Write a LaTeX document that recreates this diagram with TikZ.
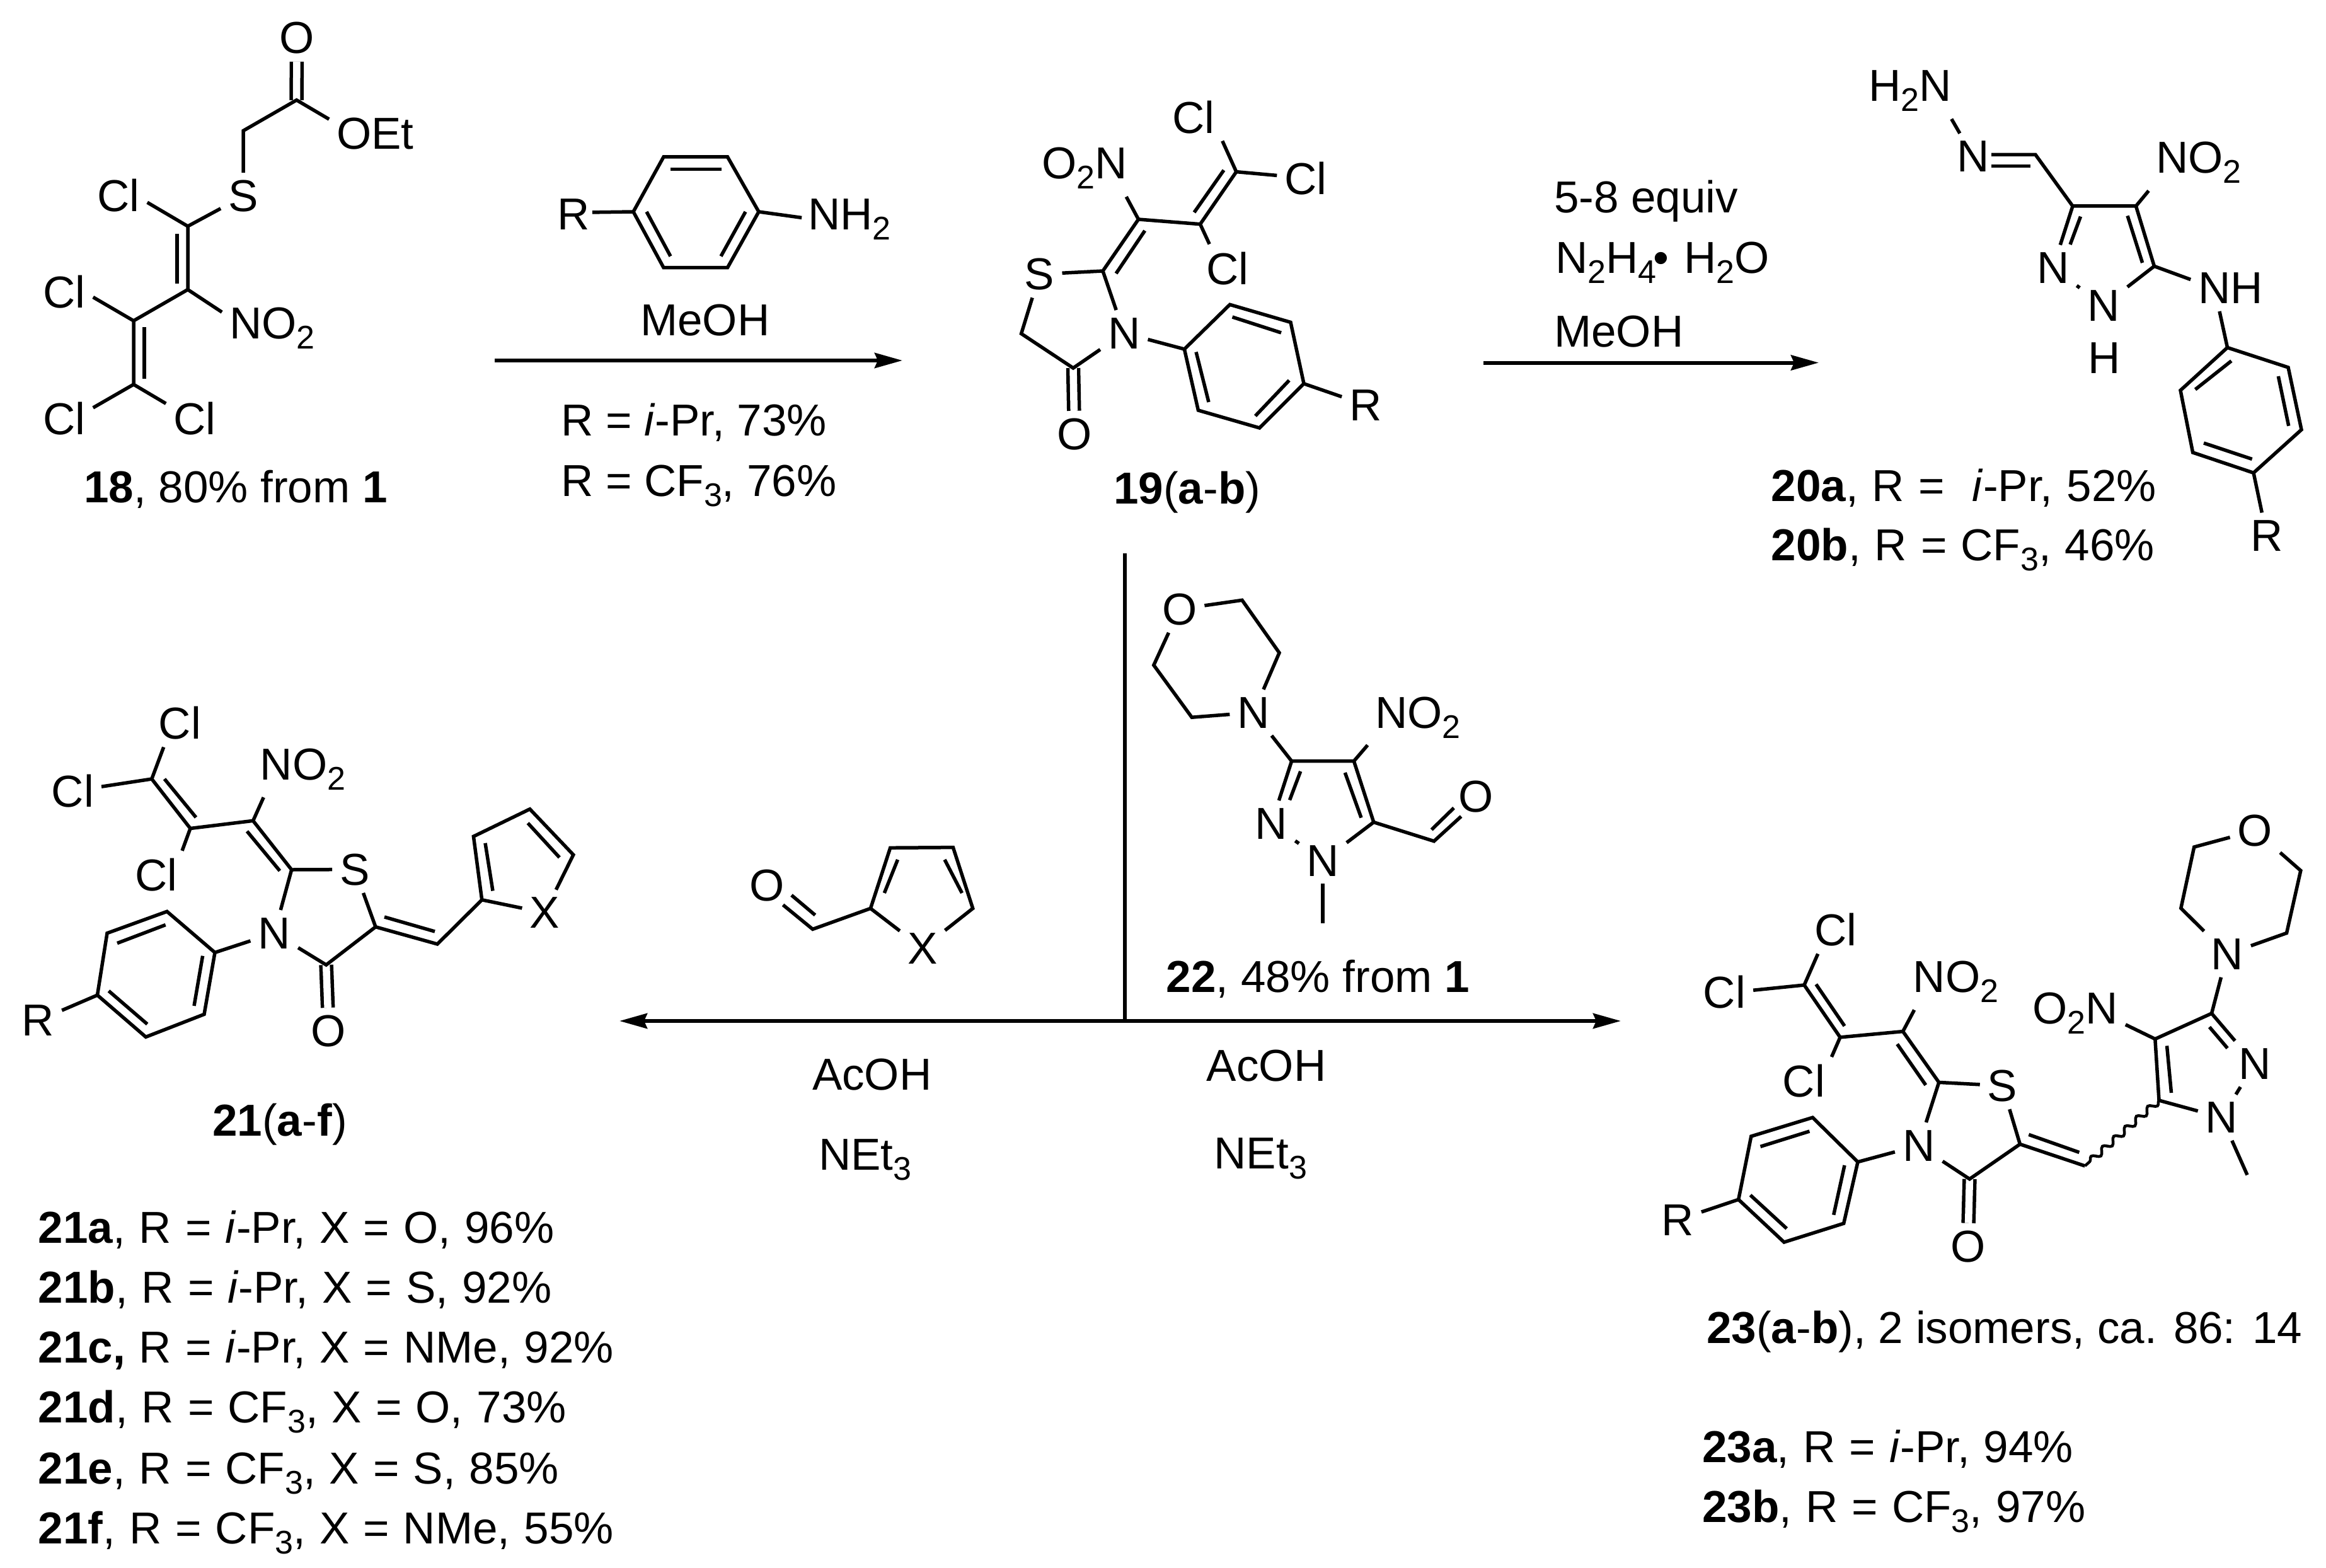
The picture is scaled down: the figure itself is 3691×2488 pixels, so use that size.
\documentclass[tikz,border=0pt]{standalone}
\usepackage{fontspec}
\setmainfont{Liberation Sans}
\usetikzlibrary{arrows.meta, decorations.pathmorphing}
\newcommand{\lowsub}[1]{\raisebox{-16pt}{\fontsize{52}{52}\selectfont #1}}
\tikzset{
    >={Stealth[length = 44pt, width = 24pt, inset = 5pt]},
    bond/.style = {line width = 5.5pt},
    dbond/.style = {line width = 5.5pt, double, double distance = 11.5pt},
    wavy/.style = {line width = 4.5pt, decorate, decoration = {snake, amplitude = 5pt, segment length = 24pt}},
    rxn/.style = {line width = 6pt},
    atom/.style = {inner sep = 12pt, anchor = base},
    txt/.style = {inner sep = 0pt, anchor = base west},
    yieldtxt/.style = {txt, execute at begin node = {\spaceskip 22pt\relax}}
}
\begin{document}
\begin{tikzpicture}[x = 1pt, y = -1pt, font = \fontsize{71}{84}\selectfont]
    \useasboundingbox (0,0) rectangle (3691,2488);

    \node[atom] (o18) at (471,85) {O};
    \node[atom] (oet18) at (562,237) {O\rlap{Et}};
    \node[atom] (s18) at (386,336) {S};
    \node[atom] (cla18) at (188,336) {Cl};
    \node[atom] (clb18) at (102,488) {Cl};
    \node[atom] (clc18) at (102,689) {Cl};
    \node[atom] (cld18) at (309,689) {Cl};
    \node[atom] (no18) at (390,537) {N\rlap{O\lowsub{2}}};
    \node[txt] (cap18) at (133,797) {\textbf{18}, 80\% from \textbf{1}};
    \coordinate (c18a) at (470.6,158.8);
    \coordinate (c18b) at (386,207.5);
    \coordinate (c18c) at (298,359);
    \coordinate (c18d) at (298,459.5);
    \coordinate (c18e) at (212,509);
    \coordinate (c18f) at (212,610);
    \draw[dbond] (c18a) -- (o18);
    \draw[bond] (oet18) -- (c18a) -- (c18b) -- (s18) -- (c18c) -- (c18d) -- (c18e) -- (c18f);
    \draw[bond] (c18c) -- (cla18.-13);
    \draw[bond] (c18d) -- (no18);
    \draw[bond] (c18e) -- (clb18.-11);
    \draw[bond] (c18f) -- (clc18.20);
    \draw[bond] (c18f) -- (cld18.153);
    \draw[bond] (281,371) -- (281,450);
    \draw[bond] (229,519) -- (229,601);

    \node[atom, inner sep = 4pt] (ran) at (910,365) {R};
    \node[atom, inner sep = 10pt] (nan) at (1308,365) {N\rlap{H\lowsub{2}}};
    \coordinate (an1) at (1005,336);
    \coordinate (an2) at (1053,249);
    \coordinate (an3) at (1154.5,249);
    \coordinate (an4) at (1204,336);
    \coordinate (an5) at (1154.5,424.6);
    \coordinate (an6) at (1053,424.6);
    \draw[bond] (an1) -- (an2) -- (an3) -- (an4) -- (an5) -- (an6) -- cycle;
    \draw[bond] (ran.7) -- (an1);
    \draw[bond] (an4) -- (nan.175);
    \draw[bond] (1063.5,268.4) -- (1145,268.4);
    \draw[bond] (1026,336) -- (1064,406.6);
    \draw[bond] (1183,336) -- (1144,406.6);
    \node[txt] (meoh1) at (1016,532) {MeOH};
    \node[txt] (yield1) at (890,691) {R = \textit{i}-Pr, 73\%};
    \node[txt] (yield2) at (890,787) {R = CF\lowsub{3}, 76\%};
    \coordinate (rxa) at (785,572);
    \coordinate (rxb) at (1432,572);
    \draw[rxn, ->] (rxa) -- (rxb);

    \node[atom] (no19) at (1763,284) {\llap{O\lowsub{2}}N};
    \node[atom] (cla19) at (1894,212) {Cl};
    \node[atom] (clb19) at (2072,308.6) {Cl};
    \node[atom] (clc19) at (1948,451) {Cl};
    \node[atom] (s19) at (1649.6,459.5) {S};
    \node[atom] (n19) at (1783.7,553) {N};
    \node[atom] (o19) at (1705,713.6) {O};
    \node[atom] (r19) at (2167,667) {R};
    \node[txt] (cap19) at (1767,799) {\textbf{19}(\textbf{a}-\textbf{b})};
    \coordinate (c19a) at (1806.5,348);
    \coordinate (c19b) at (1904.5,355.7);
    \coordinate (c19c) at (1961.8,272.6);
    \coordinate (c19d) at (1750,430);
    \coordinate (c19e) at (1620.6,529.4);
    \coordinate (c19f) at (1703,584);
    \coordinate (ar1) at (1879.4,554);
    \coordinate (ar2) at (1951.6,483.3);
    \coordinate (ar3) at (2048,511.4);
    \coordinate (ar4) at (2069,608.8);
    \coordinate (ar5) at (1998.6,679);
    \coordinate (ar6) at (1901.4,651);
    \draw[dbond] (c19f) -- (o19);
    \draw[bond] (no19) -- (c19a) -- (c19b) -- (c19c);
    \draw[bond] (c19a) -- (c19d) -- (s19) -- (c19e) -- (c19f) -- (n19) -- (c19d);
    \draw[bond] (c19c) -- (cla19.-39);
    \draw[bond] (c19c) -- (clb19.174);
    \draw[bond] (c19b) -- (clc19.127);
    \draw[bond] (n19) -- (ar1);
    \draw[bond] (ar1) -- (ar2) -- (ar3) -- (ar4) -- (ar5) -- (ar6) -- cycle;
    \draw[bond] (ar4) -- (r19);
    \draw[bond] (1895,337) -- (1942,270);
    \draw[bond] (1816.7,366) -- (1771,434);
    \draw[bond] (1955.5,503) -- (2033,528);
    \draw[bond] (1898,558.5) -- (1918,638);
    \draw[bond] (2045.7,603.5) -- (1992,660);

    \node[txt] (equiv) at (2466,337.6) {5-8 equiv};
    \node[txt] (hydr) at (2468,433) {N\lowsub{2}H\lowsub{4}\hspace{-5pt}\textbullet\hspace{24pt}H\lowsub{2}O};
    \node[txt] (meoh2) at (2466,550) {MeOH};
    \coordinate (rxc) at (2354,575.5);
    \coordinate (rxd) at (2886,575.5);
    \draw[rxn, ->] (rxc) -- (rxd);

    \node[atom] (nh20) at (3071,160.6) {\llap{H\lowsub{2}}N};
    \node[atom] (na20) at (3131,272.7) {N};
    \node[atom] (nb20) at (3257.6,449.7) {N};
    \node[atom] (nc20) at (3338,509) {N};
    \node[txt] (h20) at (3313,592) {H};
    \node[atom] (no20) at (3446.7,274.5) {N\rlap{O\lowsub{2}}};
    \node[atom] (nd20) at (3514,481.8) {N\rlap{H}};
    \node[atom] (r20) at (3597,874.5) {R};
    \node[yieldtxt] (cap20a) at (2810.6,795) {\textbf{20a}, R = \ \textit{i}-Pr, 52\%};
    \node[yieldtxt] (cap20b) at (2810.6,889.7) {\textbf{20b}, R = CF\lowsub{3}, 46\%};
    \coordinate (c20a) at (3230,245.5);
    \coordinate (c20b) at (3289,327);
    \coordinate (c20c) at (3389.4,327);
    \coordinate (c20d) at (3418.4,422.4);
    \coordinate (pa1) at (3534.5,551.5);
    \coordinate (pa2) at (3631,583);
    \coordinate (pa3) at (3652,681.8);
    \coordinate (pa4) at (3576,750.3);
    \coordinate (pa5) at (3479.6,718);
    \coordinate (pa6) at (3460,619.4);
    \draw[bond] (nh20) -- (na20);
    \draw[bond] (3160,245.5) -- (c20a) -- (c20b) -- (c20c) -- (c20d) -- (nc20) -- (nb20) -- (c20b);
    \draw[bond] (3160,263.6) -- (3222,263.6);
    \draw[bond] (c20c) -- (no20);
    \draw[bond] (c20d) -- (nd20) -- (pa1);
    \draw[bond] (pa1) -- (pa2) -- (pa3) -- (pa4) -- (pa5) -- (pa6) -- cycle;
    \draw[bond] (pa4) -- (r20);
    \draw[bond] (3301.5,343.6) -- (3285,388);
    \draw[bond] (3376,342.4) -- (3399.6,417);
    \draw[bond] (3483.5,618) -- (3540.8,572.7);
    \draw[bond] (3615.3,597) -- (3631.7,675.8);
    \draw[bond] (3573.7,728.5) -- (3497,703);

    \coordinate (rxe) at (1784.5,878);
    \coordinate (rxf) at (1784.5,1620);
    \coordinate (rxg) at (983,1620);
    \coordinate (rxh) at (2572,1620);
    \draw[rxn] (rxe) -- (rxf);
    \draw[rxn, ->] (rxf) -- (rxg);
    \draw[rxn, ->] (rxf) -- (rxh);

    \node[atom] (oc22) at (1871.6,991) {O};
    \node[atom] (na22) at (1989.2,1155) {N};
    \node[atom] (no22) at (2208,1155) {N\rlap{O\lowsub{2}}};
    \node[atom] (nb22) at (2017.5,1331.2) {N};
    \node[atom] (nc22) at (2099,1390.2) {N};
    \node[atom] (od22) at (2342,1288.4) {O};
    \node[txt] (cap22) at (1850.4,1574.7) {\textbf{22}, 48\% from \textbf{1}};
    \coordinate (c22a) at (1971,952.3);
    \coordinate (c22b) at (2030,1035.8);
    \coordinate (c22c) at (1891.2,1138.2);
    \coordinate (c22d) at (1830.8,1055.4);
    \coordinate (c22e) at (2049.6,1207.7);
    \coordinate (c22f) at (2148.4,1207.7);
    \coordinate (c22g) at (2179.8,1304.6);
    \coordinate (c22h) at (2275.5,1334.7);
    \coordinate (c22m) at (2099,1464.6);
    \draw[bond] (oc22) -- (c22a) -- (c22b) -- (na22) -- (c22c) -- (c22d) -- (oc22);
    \draw[bond] (na22) -- (c22e) -- (c22f) -- (c22g) -- (nc22) -- (nb22) -- (c22e);
    \draw[bond] (c22f) -- (no22);
    \draw[bond] (nc22) -- (c22m);
    \draw[bond] (c22g) -- (c22h) -- (2318.6,1295.4);
    \draw[bond] (2271.6,1316.5) -- (2307,1282);
    \draw[bond] (2134.3,1226) -- (2160,1297.5);
    \draw[bond] (2063.7,1223.9) -- (2046.5,1269.5);

    \node[atom] (ofu) at (1217.5,1429.5) {O};
    \node[atom] (xfu) at (1463.7,1529) {X};
    \coordinate (fu1) at (1289.6,1474.4);
    \coordinate (fu2) at (1381.4,1441.4);
    \coordinate (fu3) at (1412.7,1345.3);
    \coordinate (fu4) at (1512.4,1344.6);
    \coordinate (fu5) at (1543.7,1441.4);
    \draw[bond] (1242.5,1435.8) -- (fu1) -- (fu2) -- (fu3) -- (fu4) -- (fu5) -- (xfu) -- (fu2);
    \draw[bond] (1256,1420.4) -- (1293.5,1452);
    \draw[bond] (1424.5,1364) -- (1403.3,1417);
    \draw[bond] (1499,1364) -- (1526.5,1417);
    \node[txt] (acoha) at (1288.8,1729) {AcOH};
    \node[txt] (neta) at (1299,1856.8) {NEt\lowsub{3}};
    \node[txt] (acohb) at (1914.7,1715) {AcOH};
    \node[txt] (netb) at (1926.5,1854) {NEt\lowsub{3}};

    \node[atom] (cla21) at (285.5,1172.6) {Cl};
    \node[atom] (clb21) at (115.3,1280) {Cl};
    \node[atom] (clc21) at (248,1413.5) {Cl};
    \node[atom] (no21) at (438.4,1237) {N\rlap{O\lowsub{2}}};
    \node[atom] (s21) at (563,1404) {S};
    \node[atom] (n21) at (435.3,1505) {N};
    \node[atom] (o21) at (521.6,1660.7) {O};
    \node[atom] (r21) at (60.4,1643.8) {R};
    \node[atom] (x21) at (864.3,1472.8) {X};
    \node[txt] (cap21) at (337,1802.6) {\textbf{21}(\textbf{a}-\textbf{f})};
    \coordinate (c21a) at (240.8,1236);
    \coordinate (c21b) at (302,1314.5);
    \coordinate (c21c) at (401.6,1302.3);
    \coordinate (c21d) at (462.7,1380);
    \coordinate (c21e) at (596,1470.7);
    \coordinate (c21f) at (517.6,1531);
    \coordinate (c21g) at (694,1498);
    \coordinate (fa1) at (764.7,1427.8);
    \coordinate (fa2) at (751.4,1327.2);
    \coordinate (fa3) at (840.8,1283.8);
    \coordinate (fa4) at (909.8,1356.3);
    \coordinate (br1) at (341,1511.4);
    \coordinate (br2) at (265,1446.3);
    \coordinate (br3) at (170,1480.7);
    \coordinate (br4) at (154.5,1579);
    \coordinate (br5) at (231.4,1645.4);
    \coordinate (br6) at (324,1609.4);
    \draw[dbond] (c21f) -- (o21);
    \draw[bond] (c21a) -- (c21b) -- (c21c) -- (c21d) -- (s21) -- (c21e) -- (c21f) -- (n21) -- (c21d);
    \draw[bond] (c21a) -- (cla21.-124);
    \draw[bond] (c21a) -- (clb21.8);
    \draw[bond] (c21b) -- (clc21.43);
    \draw[bond] (c21c) -- (no21);
    \draw[bond] (n21) -- (br1);
    \draw[bond] (br1) -- (br2) -- (br3) -- (br4) -- (br5) -- (br6) -- cycle;
    \draw[bond] (br4) -- (r21);
    \draw[bond] (c21e) -- (c21g) -- (fa1) -- (fa2) -- (fa3) -- (fa4) -- (x21) -- (fa1);
    \draw[bond] (261,1236) -- (311,1297);
    \draw[bond] (392,1319) -- (444,1381.8);
    \draw[bond] (262.7,1467.5) -- (186,1496.6);
    \draw[bond] (321.6,1516.7) -- (308,1596);
    \draw[bond] (172.5,1572.3) -- (233.7,1625);
    \draw[bond] (610,1455) -- (690,1478);
    \draw[bond] (782,1413.5) -- (770,1337.8);
    \draw[bond] (837.6,1306) -- (887.8,1360.6);
    \node[yieldtxt] (list21a) at (60.6,1972) {\textbf{21a}, R = \textit{i}-Pr, X = O, 96\%};
    \node[yieldtxt] (list21b) at (60.6,2067) {\textbf{21b}, R = \textit{i}-Pr, X = S, 92\%};
    \node[yieldtxt] (list21c) at (60.6,2162) {\textbf{21c,} R = \textit{i}-Pr, X = NMe, 92\%};
    \node[yieldtxt] (list21d) at (60.6,2257) {\textbf{21d}, R = CF\lowsub{3}, X = O, 73\%};
    \node[yieldtxt] (list21e) at (60.6,2354) {\textbf{21e}, R = CF\lowsub{3}, X = S, 85\%};
    \node[yieldtxt] (list21f) at (60.6,2449) {\textbf{21f}, R = CF\lowsub{3}, X = NMe, 55\%};

    \node[atom] (oa23) at (3578.4,1342.3) {O};
    \node[atom] (na23) at (3534,1538.5) {N};
    \node[atom] (nb23) at (3577.7,1712.5) {N};
    \node[atom] (nc23) at (3525.5,1797.6) {N};
    \node[atom] (no23a) at (3335,1624.2) {\llap{O\lowsub{2}}N};
    \node[atom] (s23) at (3177.6,1747.2) {S};
    \node[atom] (nd23) at (3044.7,1842) {N};
    \node[atom] (ob23) at (3122.6,2002.5) {O};
    \node[atom] (r23) at (2662,1960.2) {R};
    \node[atom] (no23b) at (3061.4,1574.3) {N\rlap{O\lowsub{2}}};
    \node[atom] (cla23) at (2912.5,1500.6) {Cl};
    \node[atom] (clb23) at (2736.4,1599.8) {Cl};
    \node[atom] (clc23) at (2862.4,1740.7) {Cl};
    \coordinate (c23a) at (3481.7,1344);
    \coordinate (c23b) at (3460.8,1441);
    \coordinate (c23c) at (3650.8,1381.4);
    \coordinate (c23d) at (3628.5,1480.5);
    \coordinate (c23e) at (3509.5,1608);
    \coordinate (c23f) at (3419.8,1648.6);
    \coordinate (c23g) at (3426,1746);
    \coordinate (c23h) at (3308.4,1850);
    \coordinate (c23i) at (3205.4,1815.5);
    \coordinate (c23j) at (3125.4,1870.8);
    \coordinate (c23k) at (3076.7,1717.4);
    \coordinate (c23l) at (3019.6,1636.6);
    \coordinate (c23m) at (2920,1645.9);
    \coordinate (c23n) at (2863,1563);
    \coordinate (c23o) at (3566,1864.3);
    \coordinate (cr1) at (2948,1843.7);
    \coordinate (cr2) at (2876.3,1773.2);
    \coordinate (cr3) at (2778.8,1803);
    \coordinate (cr4) at (2758.7,1903.3);
    \coordinate (cr5) at (2831,1971);
    \coordinate (cr6) at (2925.7,1941.2);
    \draw[dbond] (c23j) -- (ob23);
    \draw[bond] (oa23) -- (c23a) -- (c23b) -- (na23) -- (c23d) -- (c23c) -- (oa23);
    \draw[bond] (na23) -- (c23e) -- (nb23) -- (nc23) -- (c23g) -- (c23f) -- (c23e);
    \draw[bond] (nc23) -- (c23o);
    \draw[bond] (c23f) -- (no23a);
    \draw[wavy] (c23g) -- (c23h);
    \draw[bond] (c23h) -- (c23i) -- (s23) -- (c23k) -- (c23l) -- (c23m) -- (c23n);
    \draw[bond] (c23i) -- (c23j) -- (nd23) -- (c23k);
    \draw[bond] (c23l) -- (no23b);
    \draw[bond] (c23n) -- (cla23.-126);
    \draw[bond] (c23n) -- (clb23.4);
    \draw[bond] (c23m) -- (clc23.41);
    \draw[bond] (nd23) -- (cr1);
    \draw[bond] (cr1) -- (cr2) -- (cr3) -- (cr4) -- (cr5) -- (cr6) -- cycle;
    \draw[bond] (cr4) -- (r23);
    \draw[bond] (3506,1629.6) -- (3534.6,1663.2);
    \draw[bond] (3438.5,1659.4) -- (3445.5,1734);
    \draw[bond] (3219.3,1800.3) -- (3299.4,1828.5);
    \draw[bond] (3010.6,1656.7) -- (3055.8,1721.7);
    \draw[bond] (2881.8,1561.8) -- (2927,1628);
    \draw[bond] (2871.4,1795) -- (2793.5,1819.3);
    \draw[bond] (2927,1849) -- (2909.7,1927.7);
    \draw[bond] (2777.5,1896.3) -- (2835.2,1949.4);
    \node[txt] (cap23) at (2708,2131) {\textbf{23}(\textbf{a}-\textbf{b}), 2 isomers, ca. 86: 14};
    \node[yieldtxt] (list23a) at (2701,2320) {\textbf{23a}, R = \textit{i}-Pr, 94\%};
    \node[yieldtxt] (list23b) at (2701,2415) {\textbf{23b}, R = CF\lowsub{3}, 97\%};
\end{tikzpicture}
\end{document}
